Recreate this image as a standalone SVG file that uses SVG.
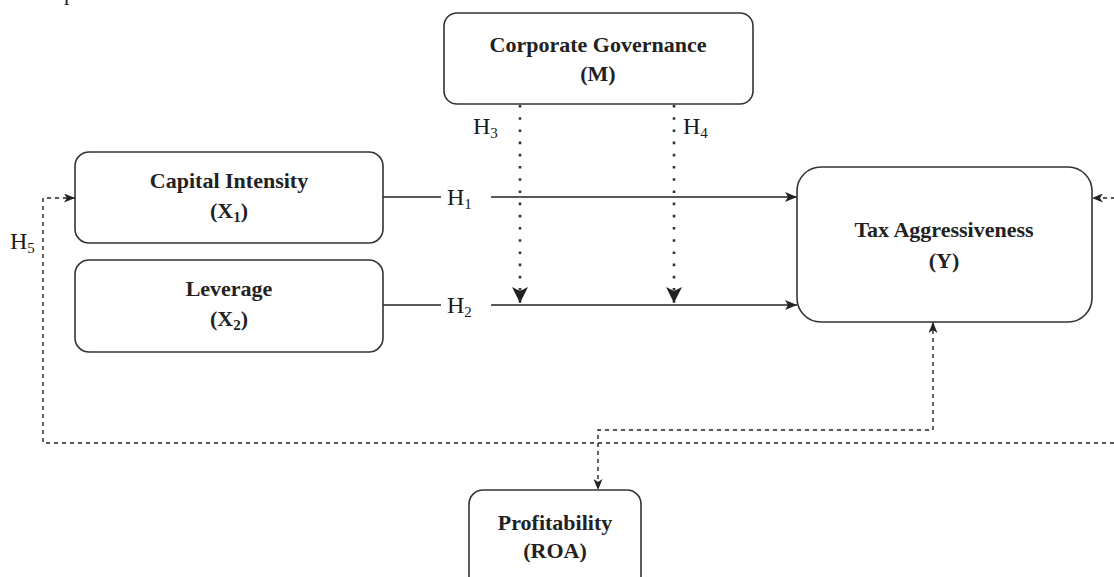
<svg xmlns="http://www.w3.org/2000/svg" width="1114" height="577" viewBox="0 0 1114 577">
<style>
.box{fill:#fff;stroke:#333;stroke-width:1.6}
.lbl{font-family:"Liberation Serif","Times New Roman",serif;font-size:22px;font-weight:bold;fill:#222;text-anchor:middle}
.h{font-family:"Liberation Serif","Times New Roman",serif;font-size:24px;fill:#1a1a1a}
.sub{font-size:15px}
.solid{fill:none;stroke:#222;stroke-width:1.6}
.dot{fill:none;stroke:#333;stroke-width:2.6;stroke-dasharray:2.6 9.6}
.dash{fill:none;stroke:#222;stroke-width:1.4;stroke-dasharray:4 4}
</style>
<defs>
<marker id="aSolid" markerUnits="userSpaceOnUse" markerWidth="12" markerHeight="10" refX="12" refY="5" orient="auto">
<path d="M0,0 L12,5 L0,10 L3,5 z" fill="#222"/>
</marker>
<marker id="aBig" markerUnits="userSpaceOnUse" markerWidth="16" markerHeight="16" refX="16" refY="8" orient="auto">
<path d="M0,0 L16,8 L0,16 L4,8 z" fill="#222"/>
</marker>
<marker id="aDash" markerUnits="userSpaceOnUse" markerWidth="11" markerHeight="9" refX="11" refY="4.5" orient="auto-start-reverse">
<path d="M0,0 L11,4.5 L0,9 L3,4.5 z" fill="#222"/>
</marker>
</defs>
<text x="64" y="0" class="h" style="font-size:22px">p</text>
<g id="connectors">
<path class="solid" d="M383 197 H441"/>
<path class="solid" d="M491 197 H797" marker-end="url(#aSolid)"/>
<path class="solid" d="M383 305 H441"/>
<path class="solid" d="M491 305 H797" marker-end="url(#aSolid)"/>
<path class="dot" d="M520 105 V303" marker-end="url(#aBig)"/>
<path class="dot" d="M674 105 V303" marker-end="url(#aBig)"/>
<path class="dash" d="M75 198 H43 V443 H1130 V198 H1092" marker-start="url(#aDash)" marker-end="url(#aDash)"/>
<path class="dash" d="M933 322 V430 H598 V490" marker-start="url(#aDash)" marker-end="url(#aDash)"/>
<text class="h" x="447" y="205">H<tspan class="sub" dy="4">1</tspan></text>
<text class="h" x="447" y="313">H<tspan class="sub" dy="4">2</tspan></text>
<text class="h" x="473" y="134">H<tspan class="sub" dy="4">3</tspan></text>
<text class="h" x="683" y="134">H<tspan class="sub" dy="4">4</tspan></text>
<text class="h" x="10" y="249">H<tspan class="sub" dy="4">5</tspan></text>
</g>
<g id="cg">
<rect class="box" x="444" y="13" width="309" height="91" rx="13"/>
<text class="lbl" x="598" y="52">Corporate Governance</text>
<text class="lbl" x="598" y="81">(M)</text>
</g>
<g id="x1">
<rect class="box" x="75" y="152" width="308" height="91" rx="14"/>
<text class="lbl" x="229" y="188">Capital Intensity</text>
<text class="lbl" x="229" y="218">(X<tspan class="sub" dy="4">1</tspan><tspan dy="-4">)</tspan></text>
</g>
<g id="x2">
<rect class="box" x="75" y="260" width="308" height="92" rx="14"/>
<text class="lbl" x="229" y="296">Leverage</text>
<text class="lbl" x="229" y="326">(X<tspan class="sub" dy="4">2</tspan><tspan dy="-4">)</tspan></text>
</g>
<g id="y">
<rect class="box" x="797" y="167" width="295" height="155" rx="24"/>
<text class="lbl" x="944" y="237">Tax Aggressiveness</text>
<text class="lbl" x="944" y="268">(Y)</text>
</g>
<g id="roa">
<rect class="box" x="469" y="490" width="172" height="100" rx="14"/>
<text class="lbl" x="555" y="530">Profitability</text>
<text class="lbl" x="555" y="558">(ROA)</text>
</g>
</svg>
